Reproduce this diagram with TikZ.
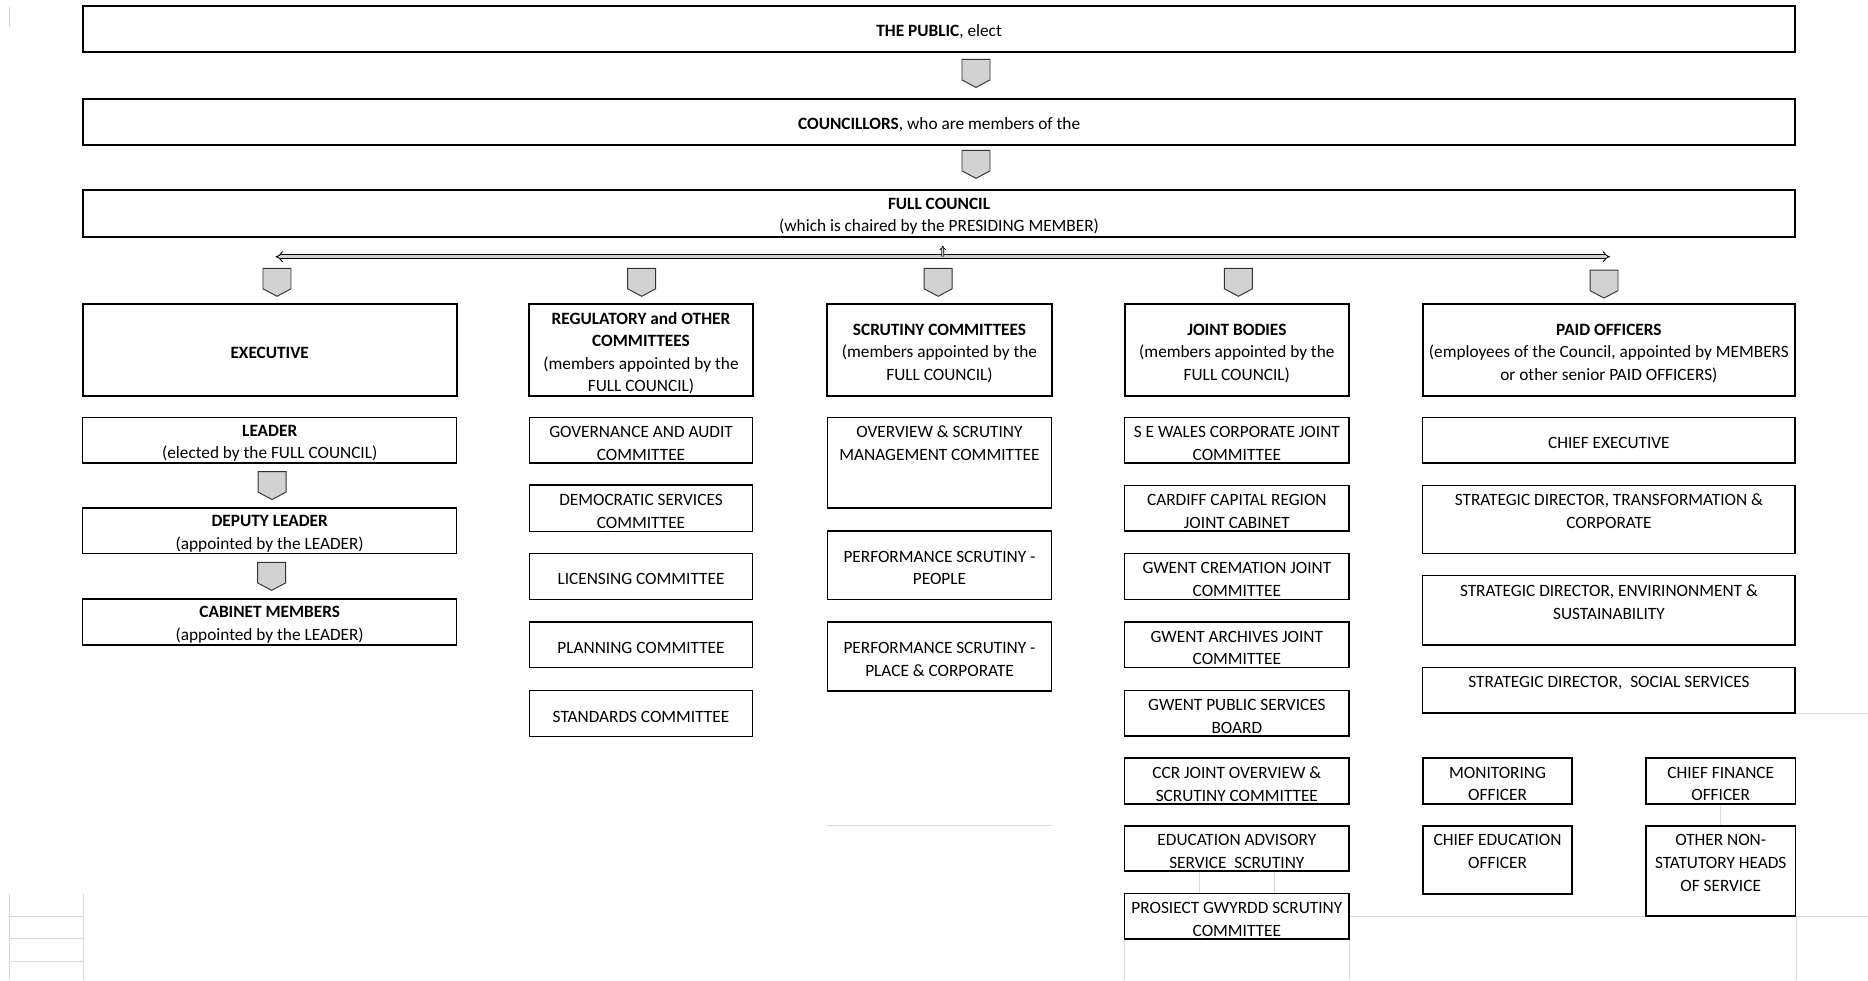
\documentclass[tikz,border=0pt]{standalone}
\usepackage{fontspec}
\setmainfont{Carlito}
\usetikzlibrary{arrows.meta,calc}
\newcommand{\orgbox}[7]{\node[#1, minimum width={#5-#3}, minimum height={#6-#4}, label={[yshift=-2.5pt]center:{#7}}] (#2) at ({(#3+#5)/2},{(#4+#6)/2}) {};}
\begin{document}
\begin{tikzpicture}[x=1pt,y=-1pt,
  every node/.style={font=\fontsize{14.5}{19}\selectfont, align=center, inner sep=0pt},
  big/.style={draw, line width=1.7pt, fill=white},
  thin/.style={draw, line width=1.15pt, fill=white},
  gridline/.style={draw=gray!30, line width=0.8pt},
  chevstyle/.style={draw=black!80, fill=gray!35, line width=0.8pt, line join=miter},
  chev/.pic={\path[chevstyle] (-11.75,-11.75) -- (11.75,-11.75) -- (11.75,5.5) -- (0,11.75) -- (-11.75,5.5) -- cycle;},
  bus/.style={double=gray!35, double distance=2.4pt, line width=0.8pt}
]
\useasboundingbox (0,0) rectangle (1568,823);

% faint grid remnants
\draw[gridline] (8,5.6) -- (8,22.4);
\draw[gridline] (8,750) -- (8,823);
\draw[gridline] (70,750) -- (70,823);
\draw[gridline] (8,769) -- (70,769);
\draw[gridline] (8,787.5) -- (70,787.5);
\draw[gridline] (8,806.7) -- (70,806.7);
\draw[gridline] (694.5,692.5) -- (882.7,692.5);
\draw[gridline] (1506.8,598.5) -- (1568,598.5);
\draw[gridline] (1132.4,769) -- (1568,769);
\draw[gridline] (1507.6,769) -- (1507.6,823);
\draw[gridline] (944,788.2) -- (944,823);
\draw[gridline] (1132.4,788.2) -- (1132.4,823);

% top chain
\orgbox{big}{public}{69.7}{4.8}{1506.8}{43.4}{\textbf{THE PUBLIC}, elect}
\orgbox{big}{councillors}{69.7}{82.8}{1506.8}{121.7}{\textbf{COUNCILLORS}, who are members of the}
\orgbox{big}{full}{69.7}{159.2}{1506.8}{198.7}{\textbf{FULL COUNCIL}\\(which is chaired by the PRESIDING MEMBER)}

% main row
\orgbox{big}{exec}{69.5}{255.5}{383.3}{332.4}{\textbf{EXECUTIVE}}
\orgbox{big}{reg}{444.2}{255.5}{631.9}{332.4}{\textbf{REGULATORY and OTHER}\\\textbf{COMMITTEES}\\(members appointed by the\\FULL COUNCIL)}
\orgbox{big}{scr}{694.5}{255.5}{882.7}{332.4}{\textbf{SCRUTINY COMMITTEES}\\(members appointed by the\\FULL COUNCIL)}
\orgbox{big}{joint}{944}{255.5}{1132.4}{332.4}{\textbf{JOINT BODIES}\\(members appointed by the\\FULL COUNCIL)}
\orgbox{big}{paid}{1194.2}{255.5}{1506.8}{332.4}{\textbf{PAID OFFICERS}\\(employees of the Council, appointed by MEMBERS\\or other senior PAID OFFICERS)}

% executive column
\orgbox{thin}{leader}{69.5}{350.6}{383.3}{388.6}{\textbf{LEADER}\\(elected by the FULL COUNCIL)}
\orgbox{thin}{deputy}{69.5}{426.5}{383.3}{464.8}{\textbf{DEPUTY LEADER}\\(appointed by the LEADER)}
\orgbox{thin}{cabinet}{69.5}{502.8}{383.3}{541.5}{\textbf{CABINET MEMBERS}\\(appointed by the LEADER)}

% regulatory column
\orgbox{thin}{gov}{444.2}{350.6}{631.9}{388.6}{GOVERNANCE AND AUDIT\\COMMITTEE}
\orgbox{thin}{dem}{444.2}{407.2}{631.9}{445.9}{DEMOCRATIC SERVICES\\COMMITTEE}
\orgbox{thin}{lic}{444.2}{464.5}{631.9}{503}{LICENSING COMMITTEE}
\orgbox{thin}{plan}{444.2}{522.1}{631.9}{560.5}{PLANNING COMMITTEE}
\orgbox{thin}{std}{444.2}{579.8}{631.9}{618}{STANDARDS COMMITTEE}

% scrutiny column
\orgbox{thin}{ovw}{694.5}{350.6}{882.7}{426.5}{OVERVIEW \& SCRUTINY\\MANAGEMENT COMMITTEE\\\mbox{}\\\mbox{}}
\orgbox{thin}{ppl}{694.5}{445.7}{882.7}{503}{PERFORMANCE SCRUTINY -\\PEOPLE}
\orgbox{thin}{place}{694.5}{522.2}{882.7}{580}{PERFORMANCE SCRUTINY -\\PLACE \& CORPORATE}

% joint bodies column
\orgbox{thin}{sew}{944}{350.6}{1132.4}{388.6}{S E WALES CORPORATE JOINT\\COMMITTEE}
\orgbox{thin}{ccrjc}{944}{407.4}{1132.4}{445.7}{CARDIFF CAPITAL REGION\\JOINT CABINET}
\orgbox{thin}{crem}{944}{464.5}{1132.4}{503}{GWENT CREMATION JOINT\\COMMITTEE}
\orgbox{thin}{arch}{944}{522.2}{1132.4}{560.5}{GWENT ARCHIVES JOINT\\COMMITTEE}
\orgbox{thin}{gpsb}{944}{579.7}{1132.4}{617.8}{GWENT PUBLIC SERVICES\\BOARD}
\orgbox{thin}{ccros}{944}{636.3}{1132.4}{674.9}{CCR JOINT OVERVIEW \&\\SCRUTINY COMMITTEE}
\orgbox{thin}{eas}{944}{693.4}{1132.4}{731}{EDUCATION ADVISORY\\SERVICE\ \ SCRUTINY}
\orgbox{thin}{pgs}{944}{750.2}{1132.4}{788.2}{PROSIECT GWYRDD SCRUTINY\\COMMITTEE}

% paid officers column
\orgbox{thin}{ce}{1194.2}{350.6}{1506.8}{388.6}{CHIEF EXECUTIVE}
\orgbox{thin}{sdt}{1194.2}{407.4}{1506.8}{464.8}{STRATEGIC DIRECTOR, TRANSFORMATION \&\\CORPORATE\\\mbox{}}
\orgbox{thin}{sde}{1194.2}{483.2}{1506.8}{541.5}{STRATEGIC DIRECTOR, ENVIRINONMENT \&\\SUSTAINABILITY\\\mbox{}}
\orgbox{thin}{sds}{1194.2}{560.2}{1506.8}{598.5}{STRATEGIC DIRECTOR,\ \ SOCIAL SERVICES\\\mbox{}}
\orgbox{thin}{mon}{1194.5}{636.3}{1319.6}{674.9}{MONITORING\\OFFICER}
\orgbox{thin}{cfo}{1381.7}{636.3}{1507}{674.9}{CHIEF FINANCE\\OFFICER}
\orgbox{thin}{ceo}{1194.5}{693.4}{1319.6}{750.4}{CHIEF EDUCATION\\OFFICER\\\mbox{}}
\orgbox{thin}{other}{1381.7}{693.4}{1507}{769}{OTHER NON-\\STATUTORY HEADS\\OF SERVICE\\\mbox{}}

% faint links between boxes
\draw[gridline] ($(eas.south)+(-31.2,0)$) -- ($(pgs.north)+(-31.2,0)$);
\draw[gridline] ($(eas.south)+(31.4,0)$) -- ($(pgs.north)+(31.4,0)$);
\draw[gridline] (cfo.south) -- (other.north);

% block-arrow connectors
\pic at ($(public.south)!0.5!(councillors.north)+(31,-1.5)$) {chev};
\pic at ($(councillors.south)!0.5!(full.north)+(31,-2.5)$) {chev};
\pic at ($(exec.north)+(6.1,-17.7)$) {chev};
\pic at ($(reg.north)+(0.55,-17.7)$) {chev};
\pic at ($(scr.north)+(-1.1,-17.7)$) {chev};
\pic at ($(joint.north)+(1.3,-17.7)$) {chev};
\pic at ($(paid.north)+(-4.1,-16.2)$) {chev};
\pic at ($(leader.south)!0.5!(deputy.north)+(2,0)$) {chev};
\pic at ($(deputy.south)!0.5!(cabinet.north)+(1.6,0)$) {chev};

% distribution bus
\coordinate (busL) at (231.3,215.5);
\coordinate (busR) at (1351.5,215.5);
\coordinate (busM) at (791.3,215.5);
\draw[bus, {Implies}-{Implies}] (busL) -- (busR);
\draw[double=gray!35, double distance=1.2pt, line width=0.6pt, -{Implies}] (busM) -- ($(full.south)+(3.1,6.6)$);
\end{tikzpicture}
\end{document}
